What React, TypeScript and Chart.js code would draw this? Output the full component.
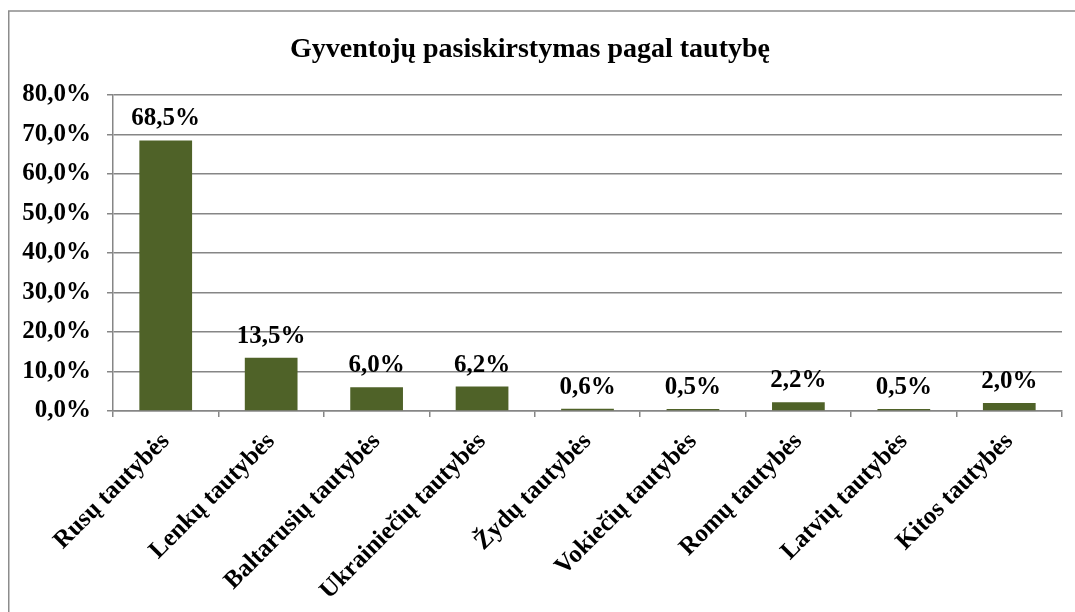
import React, { useEffect, useRef } from "react";
import { Chart, registerables } from "chart.js";

Chart.register(...registerables);

const TITLE = "Gyventojų pasiskirstymas pagal tautybę";
const categories = [
  "Rusų tautybės",
  "Lenkų tautybės",
  "Baltarusių tautybės",
  "Ukrainiečių tautybės",
  "Žydų tautybės",
  "Vokiečių tautybės",
  "Romų tautybės",
  "Latvių tautybės",
  "Kitos tautybės",
];
const values = [68.5, 13.5, 6.0, 6.2, 0.6, 0.5, 2.2, 0.5, 2.0];
const yTicks = [0, 10, 20, 30, 40, 50, 60, 70, 80];

const FONT = "'Liberation Serif', 'Times New Roman', serif";
const BAR = "#4F6228";
const GRID = "#868686";

const fmt = (v: number) => v.toFixed(1).replace(".", ",") + "%";

export default function App() {
  const ref = useRef<HTMLCanvasElement | null>(null);
  useEffect(() => {
    if (!ref.current) return;
    const decor = {
      id: "decor",
      beforeDraw(chart: any) {
        const ctx = chart.ctx;
        ctx.save();
        ctx.fillStyle = "#ffffff";
        ctx.fillRect(0, 0, chart.width, chart.height);
        ctx.strokeStyle = "#8c8c8c";
        ctx.lineWidth = 1.5;
        ctx.strokeRect(8.75, 11, chart.width + 20, chart.height + 20);
        ctx.restore();
      },
      afterDraw(chart: any) {
        const ctx = chart.ctx;
        ctx.save();
        ctx.fillStyle = "#000";
        ctx.font = `bold 28px ${FONT}`;
        ctx.textAlign = "center";
        ctx.textBaseline = "alphabetic";
        ctx.fillText(TITLE, 530, 57);
        ctx.font = `bold 25px ${FONT}`;
        const meta = chart.getDatasetMeta(0);
        meta.data.forEach((bar: any, i: number) => {
          ctx.fillText(fmt(values[i]), bar.x, bar.y - 15);
        });
        ctx.restore();
      },
    };
    const chart = new Chart(ref.current, {
      type: "bar",
      data: {
        labels: categories,
        datasets: [
          {
            data: values,
            backgroundColor: BAR,
            borderWidth: 0,
            barPercentage: 0.5,
            categoryPercentage: 1,
          },
        ],
      },
      options: {
        responsive: false,
        animation: false,
        layout: { padding: { top: 95, right: 13, left: 0, bottom: 0 } },
        plugins: {
          legend: { display: false },
          title: { display: false },
          tooltip: { enabled: false },
        },
        scales: {
          x: {
            offset: true,
            grid: {
              offset: true,
              drawOnChartArea: false,
              drawTicks: true,
              tickLength: 6,
              color: GRID,
              lineWidth: 1.5,
            },
            border: { color: GRID, width: 1.5 },
            ticks: {
              color: "#000",
              font: { family: FONT, size: 25, weight: "bold" },
              maxRotation: 45,
              minRotation: 45,
              padding: 10,
              autoSkip: false,
            },
            afterFit(scale: any) {
              scale.height = 201;
            },
          },
          y: {
            min: 0,
            max: 80,
            afterBuildTicks(scale: any) {
              scale.ticks = yTicks.map((v) => ({ value: v }));
            },
            grid: {
              color: GRID,
              lineWidth: 1.5,
              tickLength: 6,
            },
            border: { color: GRID, width: 1.5 },
            ticks: {
              color: "#000",
              font: { family: FONT, size: 25, weight: "bold" },
              padding: 16,
              callback: (v: any) => fmt(Number(v)),
            },
            afterFit(scale: any) {
              scale.width = 113;
            },
          },
        },
      },
      plugins: [decor],
    } as any);
    return () => chart.destroy();
  }, []);
  return (
    <div
      style={{
        position: "fixed",
        left: 0,
        top: 0,
        width: 1075,
        height: 612,
        overflow: "hidden",
        background: "#fff",
      }}
    >
      <canvas ref={ref} width={1075} height={612} style={{ display: "block" }} />
    </div>
  );
}
